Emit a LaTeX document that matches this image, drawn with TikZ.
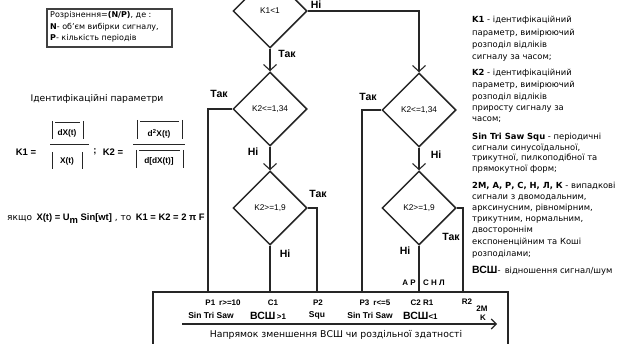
\documentclass[tikz,border=0pt]{standalone}
\usepackage{fontspec}
\setmainfont{DejaVu Sans}
\newfontfamily\arl{Liberation Sans}
\usetikzlibrary{shapes.geometric,arrows.meta}
\begin{document}
\begin{tikzpicture}[x=1pt,y=-1pt,
  dia/.style={diamond,draw=black!85,line width=1.5pt,minimum width=74pt,minimum height=74pt,inner sep=0pt,font=\arl\fontsize{8.3}{9}\selectfont},
  conn/.style={draw=black!85,line width=1.3pt},
  arr/.style={conn,-{Straight Barb[length=6pt,width=13pt,line width=1.1pt]}},
  yn/.style={font=\arl\bfseries\fontsize{10.5}{12}\selectfont,inner sep=0pt},
  rt/.style={font=\fontsize{8.4}{10}\selectfont,inner sep=0pt,anchor=base west},
  bl/.style={font=\arl\bfseries\fontsize{8}{9}\selectfont,inner sep=0pt},
  sl/.style={font=\arl\bfseries\fontsize{8.5}{10}\selectfont,inner sep=0pt},
  fm/.style={font=\arl\bfseries\fontsize{8.3}{9}\selectfont,inner sep=0pt},
  fl/.style={draw=black!85,line width=1pt},
  note/.style={font=\fontsize{8}{9}\selectfont,inner sep=0pt,anchor=base west}
]
\useasboundingbox (0,0) rectangle (617,344);
\clip (0,0) rectangle (617,344);

% note box
\draw[draw=black!75,line width=1.1pt] (47,9) rectangle (172,47);
\node[note] (n1) at (50,18) {Розрізнення=\textbf{(N/P)}, де :};
\node[note] (n2) at (50,30) {\textbf{N}- об'єм вибірки сигналу,};
\node[note] (n3) at (50,41) {\textbf{P}- кількість періодів};

\node[font=\fontsize{9.2}{11}\selectfont,inner sep=0pt] (idp) at (97,99) {Ідентифікаційні параметри};

% formulas
\node[fm,font=\arl\bfseries\fontsize{9.5}{10}\selectfont] (k1l) at (26,152) {K1 =};
\node[fm] (k1n) at (67,133) {dX(t)};
\draw[fl] (55,123) -- (80,123);
\draw[fl] (52,121) -- (52,139) (83,121) -- (83,139);
\draw[fl] (50,145) -- (89,145);
\node[fm] (k1d) at (67,161) {X(t)};
\draw[fl] (52,152) -- (52,169) (82,152) -- (82,169);
\node[fm,font=\arl\bfseries\fontsize{9.5}{10}\selectfont] (semi) at (95,152) {;};
\node[fm,font=\arl\bfseries\fontsize{9.5}{10}\selectfont] (k2l) at (113,152) {K2 =};
\node[fm] (k2n) at (159,134) {d\textsuperscript{2}X(t)};
\draw[fl] (140,122) -- (179,122);
\draw[fl] (137,120) -- (137,139) (182,120) -- (182,139);
\draw[fl] (133,145) -- (185,145);
\node[fm] (k2d) at (159,161) {d[dX(t)]};
\draw[fl] (139,151) -- (180,151);
\draw[fl] (136,150) -- (136,168) (183,150) -- (183,168);

\node[inner sep=0pt,anchor=base west,font=\fontsize{9}{10}\selectfont] (ifx) at (7,221)
  {якщо\enspace{\arl\bfseries\fontsize{9.4}{10}\selectfont X(t) = U\raisebox{-2.5pt}{m} Sin[wt]} , то\enspace{\arl\bfseries\fontsize{9.4}{10}\selectfont K1 = K2 = 2 π F}};

% diamonds
\node[dia] (d1) at (270,11) {K1<1};
\node[dia] (d2) at (270,109) {K2<=1,34};
\node[dia] (d3) at (270,208) {K2>=1,9};
\node[dia] (d4) at (419,110) {K2<=1,34};
\node[dia] (d5) at (419,208) {K2>=1,9};

% bottom box
\draw[draw=black!85,line width=1.3pt] (153,292) rectangle (508,360);
\coordinate (t1) at (208,292);
\coordinate (t2) at (270,292);
\coordinate (t3) at (317,292);
\coordinate (t4) at (362,292);
\coordinate (t5) at (419,292);
\coordinate (t6) at (463,292);

% connectors
\draw[arr] (d1.south) -- (d2.north);
\draw[arr] (d1.east) -| (d4.north);
\draw[arr] (d2.south) -- (d3.north);
\draw[arr] (d4.south) -- (d5.north);
\draw[conn] (d2.west) -| (t1);
\draw[conn] (d3.south) -- (t2);
\draw[conn] (d3.east) -| (t3);
\draw[conn] (d4.west) -| (t4);
\draw[conn] (d5.south) -- (t5);
\draw[conn] (d5.east) -| (t6);

% yes/no labels
\node[yn,anchor=north] (l0) at (316,0.5) {Ні};
\node[yn] (l1) at (287,54) {Так};
\node[yn] (l2) at (219,94) {Так};
\node[yn] (l3) at (253,152) {Ні};
\node[yn] (l4) at (318,194) {Так};
\node[yn] (l5) at (285,254) {Ні};
\node[yn] (l6) at (368,97) {Так};
\node[yn] (l7) at (436,155) {Ні};
\node[yn] (l8) at (451,237) {Так};
\node[yn] (l9) at (405,251) {Ні};
\node[bl,anchor=east] (ar) at (416,283) {А Р};
\node[bl,anchor=west] (snl) at (423,283) {С Н Л};

% box labels
\node[bl] (p1) at (223,303) {P1\enspace r>=10};
\node[bl] (c1) at (273,303) {C1};
\node[bl] (p2) at (318,303) {P2};
\node[bl] (p3) at (375,303) {P3\enspace r<=5};
\node[bl] (c2) at (422,303) {C2 R1};
\node[bl] (r2) at (467,302) {R2};
\node[bl] (m2) at (482,309) {2M};
\node[bl] (kk) at (483,318) {K};
\node[sl] (s1) at (211,315) {Sin Tri Saw};
\node[bl,anchor=west] (v1) at (250,316) {{\fontsize{10.5}{12}\selectfont ВСШ}\,>1};
\node[sl] (s2) at (317,315) {Squ};
\node[sl] (s3) at (370,315) {Sin Tri Saw};
\node[bl,anchor=west] (v2) at (403,316) {{\fontsize{10.5}{12}\selectfont ВСШ}<1};
\coordinate (a0) at (182,324);
\coordinate (a1) at (497,324);
\draw[conn,line width=1.1pt,-{Straight Barb[length=5pt,width=10pt]}] (a0) -- (a1);
\node[inner sep=0pt,font=\fontsize{9.3}{11}\selectfont] (dir) at (336,335) {Напрямок зменшення ВСШ чи роздільної здатності};

% right legend
\foreach \t/\y [count=\i] in {
 {\textbf{K1} - ідентифікаційний}/23,
 {параметр, вимірюючий}/36,
 {розподіл відліків}/48,
 {сигналу за часом;}/60,
 {\textbf{K2} - ідентифікаційний}/76,
 {параметр, вимірюючий}/88,
 {розподіл відліків}/100,
 {приросту сигналу за}/111,
 {часом;}/122,
 {\textbf{Sin Tri Saw Squ} - періодичні}/140,
 {сигнали синусоїдальної,}/151,
 {трикутної, пилкоподібної та}/161,
 {прямокутної форм;}/172,
 {\textbf{2М, А, Р, С, Н, Л, К} - випадкові}/189,
 {сигнали з двомодальним,}/200,
 {арксинусним, рівномірним,}/211,
 {трикутним, нормальним,}/222,
 {двостороннім}/233,
 {експоненційним та Коші}/244,
 {розподілами;}/256,
 {{\arl\bfseries\fontsize{10.5}{12}\selectfont ВСШ}-\enspace відношення сигнал/шум}/273}
 \node[rt] (r\i) at (472,\y) {\t};
\end{tikzpicture}
\end{document}
